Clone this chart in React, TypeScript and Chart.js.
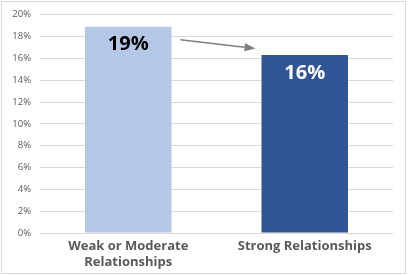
import React, { useEffect, useRef } from "react";
import { Chart, registerables } from "chart.js";

Chart.register(...registerables);

const categories: string[][] = [["Weak or Moderate", "Relationships"], ["Strong Relationships"]];
const values: number[] = [18.9, 16.3];
const valueLabels: string[] = ["19%", "16%"];
const barColors: string[] = ["#b4c7e7", "#2f5597"];
const labelColors: string[] = ["#000000", "#ffffff"];
const yTicks: number[] = [0, 2, 4, 6, 8, 10, 12, 14, 16, 18, 20];
const arrowFromValue = 17.7;
const arrowToValue = 16.9;

const overlayPlugin = {
  id: "overlay",
  beforeDraw(chart: any) {
    const ctx = chart.ctx;
    ctx.save();
    ctx.fillStyle = "#ffffff";
    ctx.fillRect(0, 0, chart.width, chart.height);
    ctx.strokeStyle = "#d9d9d9";
    ctx.lineWidth = 1;
    ctx.strokeRect(1.5, 1.5, chart.width - 4, chart.height - 3);
    ctx.restore();
  },
  afterDatasetsDraw(chart: any) {
    const ctx = chart.ctx;
    const meta = chart.getDatasetMeta(0);
    const y = chart.scales.y;
    ctx.save();
    ctx.font = "bold 20px 'Open Sans'";
    ctx.textAlign = "center";
    ctx.textBaseline = "middle";
    meta.data.forEach((bar: any, i: number) => {
      ctx.fillStyle = labelColors[i];
      ctx.fillText(valueLabels[i], bar.x, bar.y + 18);
    });
    // arrow
    const b0 = meta.data[0];
    const b1 = meta.data[1];
    const x0 = b0.x + b0.width / 2 + 9;
    const x1 = b1.x - b1.width / 2 - 6;
    const y0 = y.getPixelForValue(arrowFromValue);
    const y1 = y.getPixelForValue(arrowToValue);
    const ang = Math.atan2(y1 - y0, x1 - x0);
    const headLen = 11;
    const headW = 4;
    const bx = x1 - headLen * Math.cos(ang);
    const by = y1 - headLen * Math.sin(ang);
    ctx.strokeStyle = "#7f7f7f";
    ctx.fillStyle = "#7f7f7f";
    ctx.lineWidth = 1.5;
    ctx.beginPath();
    ctx.moveTo(x0, y0);
    ctx.lineTo(bx, by);
    ctx.stroke();
    ctx.beginPath();
    ctx.moveTo(x1, y1);
    ctx.lineTo(bx + headW * Math.sin(ang), by - headW * Math.cos(ang));
    ctx.lineTo(bx - headW * Math.sin(ang), by + headW * Math.cos(ang));
    ctx.closePath();
    ctx.fill();
    ctx.restore();
  },
};

export default function App() {
  const ref = useRef<HTMLCanvasElement | null>(null);
  useEffect(() => {
    if (!ref.current) return;
    const chart = new Chart(ref.current, {
      type: "bar",
      data: {
        labels: categories as any,
        datasets: [
          {
            data: values,
            backgroundColor: barColors,
            borderWidth: 0,
            barPercentage: 0.49,
            categoryPercentage: 1,
          },
        ],
      },
      options: {
        animation: false,
        responsive: false,
        maintainAspectRatio: false,
        layout: { padding: { top: 12, right: 15, left: 4, bottom: 0 } },
        plugins: { legend: { display: false }, tooltip: { enabled: false } },
        scales: {
          x: {
            grid: { display: false, drawTicks: false },
            border: { display: false },
            ticks: {
              color: "#595959",
              font: { family: "'Open Sans'", size: 13, weight: "bold", lineHeight: 1.18 },
              padding: 6,
              maxRotation: 0,
              autoSkip: false,
            },
            afterFit(s: any) {
              s.height = 42;
            },
          },
          y: {
            min: 0,
            max: 20,
            afterBuildTicks(s: any) {
              s.ticks = yTicks.map((v) => ({ value: v }));
            },
            grid: { color: "#d9d9d9", drawTicks: false, lineWidth: 1 },
            border: { display: false },
            ticks: {
              color: "#595959",
              font: { family: "'Open Sans'", size: 9.5 },
              padding: 9,
              callback: (v: any) => v + "%",
            },
            afterFit(s: any) {
              s.width = 36;
            },
          },
        },
      },
      plugins: [overlayPlugin],
    });
    return () => chart.destroy();
  }, []);
  return (
    <div style={{ position: "fixed", left: 0, top: 0, width: 408, height: 275 }}>
      <canvas ref={ref} width={408} height={275} style={{ width: 408, height: 275 }} />
    </div>
  );
}
